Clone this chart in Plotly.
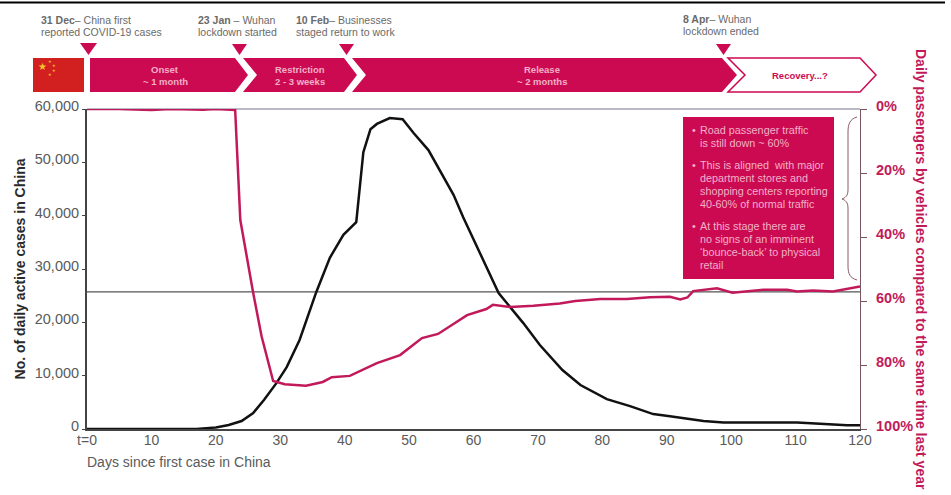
import plotly.graph_objects as go

cases_days = [0, 17, 19, 20, 22, 24, 25.8, 27.5, 29.4, 31, 33, 35.6, 37.7, 39.8, 41.8, 42.4, 42.9, 44, 45, 47, 49, 50.7, 53, 56.9, 58.4, 63.9, 65.7, 67.7, 70.3, 73.8, 76.6, 80.7, 84.3, 87.9, 90.5, 95.7, 98.8, 110.2, 113.8, 118, 120]
active_cases = [0, 0, 200, 300, 750, 1500, 3000, 5500, 8600, 11600, 16700, 25700, 32100, 36400, 38800, 46100, 51900, 56200, 57200, 58300, 58100, 55500, 52300, 43900, 39700, 25500, 22900, 19900, 15750, 11060, 8250, 5600, 4300, 2800, 2400, 1500, 1200, 1200, 1000, 700, 700]
traffic_days = [0, 5, 10, 13, 18, 20, 23, 23.8, 25.8, 27.1, 28.9, 30.7, 34, 36.6, 38, 40.8, 45, 48.6, 52, 54.5, 59, 62, 63, 65.7, 69.3, 73.4, 75.8, 79.7, 83.8, 87.4, 90.5, 92.1, 93.2, 94.1, 97.8, 100.2, 105, 108.7, 110.2, 112.7, 115.8, 120]
traffic_drop = [0, 0, 0.3, 0, 0.2, 0, 0.3, 34.7, 57.5, 71, 85, 86, 86.5, 85.3, 83.8, 83.4, 79.4, 76.9, 71.6, 70.3, 64.4, 62.5, 61.2, 61.9, 61.5, 60.8, 60, 59.4, 59.4, 58.8, 58.7, 59.5, 58.9, 56.9, 56, 57.4, 56.5, 56.5, 57, 56.7, 57, 55.5]
x_ticks = list(range(0, 121, 10))
x_labels = ["t=0"] + [str(v) for v in x_ticks[1:]]
case_ticks = [0, 10000, 20000, 30000, 40000, 50000, 60000]
drop_ticks = [0, 20, 40, 60, 80, 100]
drop_labels = ["0%", "20%", "40%", "60%", "80%", "100%"]
reference_level = 25700

PINK = "#cc0a52"
LINE = "#c2195a"
W, H = 951, 495
L, R, T, B = 87, 860, 109, 429


def xp(x):
    return (x - L) / (R - L)


def yp(y):
    return (B - y) / (B - T)


def poly(points, fill=PINK, line=None, width=0):
    path = "M " + " L ".join(f"{xp(a):.5f},{yp(b):.5f}" for a, b in points) + " Z"
    return dict(type="path", xref="paper", yref="paper", path=path, fillcolor=fill,
                line=dict(color=line or fill, width=width), layer="above")


def note(x, y, text, size=10.5, color="#6a6a6a", xanchor="left", **kw):
    return dict(xref="paper", yref="paper", x=xp(x), y=yp(y), text=text, showarrow=False, xanchor=xanchor,
                yanchor="middle", align=kw.pop("align", "left"),
                font=dict(size=size, color=color, family="Liberation Sans"), **kw)


top, bot, mid = 58, 92, 75
shapes = [
    dict(type="rect", xref="paper", yref="paper", x0=xp(0), x1=xp(945), y0=yp(1.5), y1=yp(3.5),
         fillcolor="#000000", line=dict(width=0)),
    dict(type="rect", xref="paper", yref="paper", x0=xp(33), x1=xp(84), y0=yp(top), y1=yp(bot),
         fillcolor="#d1201f", line=dict(width=0)),
    poly([(90, top), (235, top), (248, mid), (235, bot), (90, bot)]),
    poly([(243, top), (344, top), (357, mid), (344, bot), (243, bot), (257, mid)]),
    poly([(352, top), (722, top), (737, mid), (722, bot), (352, bot), (366, mid)]),
    poly([(728, 58), (860, 58), (876, mid), (860, bot), (728, bot), (745, mid)], fill="#ffffff", line=PINK, width=1.5),
    poly([(80, 43), (97, 43), (88.5, 55)]),
    poly([(232, 44), (247, 44), (239.5, 55)]),
    poly([(339, 44), (354, 44), (346.5, 55)]),
    poly([(716, 44), (731, 44), (723.5, 55)]),
    dict(type="rect", xref="paper", yref="paper", x0=xp(683), x1=xp(834), y0=yp(117), y1=yp(279),
         fillcolor=PINK, line=dict(width=0), layer="above"),
    dict(type="path", xref="paper", yref="paper", layer="above", line=dict(color="#8a5a68", width=1),
         path=(f"M {xp(857):.5f},{yp(117):.5f} C {xp(850):.5f},{yp(119):.5f} {xp(848):.5f},{yp(124):.5f} {xp(848):.5f},{yp(132):.5f} "
               f"L {xp(848):.5f},{yp(190):.5f} C {xp(848):.5f},{yp(196):.5f} {xp(845):.5f},{yp(198):.5f} {xp(842):.5f},{yp(199):.5f} "
               f"C {xp(845):.5f},{yp(200):.5f} {xp(848):.5f},{yp(202):.5f} {xp(848):.5f},{yp(208):.5f} "
               f"L {xp(848):.5f},{yp(266):.5f} C {xp(848):.5f},{yp(274):.5f} {xp(850):.5f},{yp(278):.5f} {xp(857):.5f},{yp(280):.5f}")),
    dict(type="line", xref="paper", yref="y", x0=0, x1=1, y0=reference_level, y1=reference_level,
         line=dict(color="#555555", width=1.2), layer="below"),
    dict(type="line", xref="paper", yref="paper", x0=0, x1=1, y0=1, y1=1,
         line=dict(color="#77768f", width=1.2), layer="below"),
]

box = "#f2b0c8"
annotations = [
    note(39, 20, "<b>31 Dec</b>– China first"),
    note(39, 31.5, "reported COVID-19 cases"),
    note(196, 20, "<b>23 Jan</b> – Wuhan"),
    note(196, 32, "lockdown started"),
    note(294, 20, "<b>10 Feb</b>– Businesses"),
    note(294, 32, "staged return to work"),
    note(681, 19, "<b>8 Apr</b>– Wuhan"),
    note(681, 31, "lockdown ended"),
    note(165, 69, "<b>Onset</b>", 9.5, box, "center"),
    note(165, 81, "<b>~ 1 month</b>", 9.5, box, "center"),
    note(300, 69, "<b>Restriction</b>", 9.5, box, "center"),
    note(300, 81, "<b>2 - 3 weeks</b>", 9.5, box, "center"),
    note(542, 69, "<b>Release</b>", 9.5, box, "center"),
    note(542, 81, "<b>~ 2 months</b>", 9.5, box, "center"),
    note(800, 75, "<b>Recovery...?</b>", 9.5, PINK, "center"),
    note(36, 66, "★", 10, "#f3c62b"),
    note(46, 62, "★", 4, "#f3c62b"),
    note(50, 65, "★", 4, "#f3c62b"),
    note(50, 70, "★", 4, "#f3c62b"),
    note(46, 74, "★", 4, "#f3c62b"),
    note(690, 130, "•", 10.8, box),
    note(698, 130, "Road passenger traffic", 10.8, box),
    note(698, 143, "is still down ~ 60%", 10.8, box),
    note(690, 165, "•", 10.8, box),
    note(698, 165, "This is aligned  with major", 10.8, box),
    note(698, 178, "department stores and", 10.8, box),
    note(698, 191, "shopping centers reporting", 10.8, box),
    note(698, 204, "40-60% of normal traffic", 10.8, box),
    note(690, 226, "•", 10.8, box),
    note(698, 226, "At this stage there are", 10.8, box),
    note(698, 239, "no signs of an imminent", 10.8, box),
    note(698, 252, "‘bounce-back’ to physical", 10.8, box),
    note(698, 265, "retail", 10.8, box),
    note(85, 462, "Days since first case in China", 14, "#5a5a5a"),
    note(921, 269, "<b>Daily passengers by vehicles compared to the same time last year</b>", 14, LINE, "center",
         textangle=90),
]

fig = go.Figure()
fig.add_trace(go.Scatter(x=cases_days, y=active_cases, mode="lines", yaxis="y",
                         line=dict(color="#111111", width=2.5), name="Active cases", cliponaxis=False))
fig.add_trace(go.Scatter(x=traffic_days, y=traffic_drop, mode="lines", yaxis="y2",
                         line=dict(color=LINE, width=2.5), name="Passenger traffic", cliponaxis=False))

fig.update_layout(
    width=W, height=H, showlegend=False, paper_bgcolor="white", plot_bgcolor="white",
    margin=dict(l=L, r=W - R, t=T, b=H - B, autoexpand=False),
    font=dict(family="Liberation Sans", color="#5a5a5a"),
    shapes=shapes, annotations=annotations,
    xaxis=dict(range=[0, 120], tickvals=x_ticks, ticktext=x_labels, showgrid=False, zeroline=False,
               showline=True, linecolor="#444444", linewidth=2, ticks="", ticklabelstandoff=-3,
               tickfont=dict(size=14, color="#5a5a5a")),
    yaxis=dict(range=[0, 60000], tickvals=case_ticks, tickformat=",d", showgrid=False, zeroline=False,
               showline=True, linecolor="#444444", linewidth=2, ticks="outside", ticklen=3, tickcolor="#444444",
               ticklabelshift=-3, tickfont=dict(size=14.5, color="#5a5a5a"),
               title=dict(text="<b>No. of daily active cases in China</b>", standoff=6,
                          font=dict(size=14, color="#2a2a2a"))),
    yaxis2=dict(range=[100, 0], overlaying="y", side="right", tickvals=drop_ticks, ticktext=drop_labels,
                showgrid=False, zeroline=False, showline=True, linecolor="#77555f", linewidth=1.2, ticks="outside",
                ticklen=6, tickcolor="#77555f", ticklabelstandoff=6, ticklabelshift=3,
                tickfont=dict(size=14.5, color=LINE, family="Liberation Sans", weight="bold")),
)
fig.write_html("out.html", post_script="document.body.style.margin='0';", config={"displayModeBar": False})
